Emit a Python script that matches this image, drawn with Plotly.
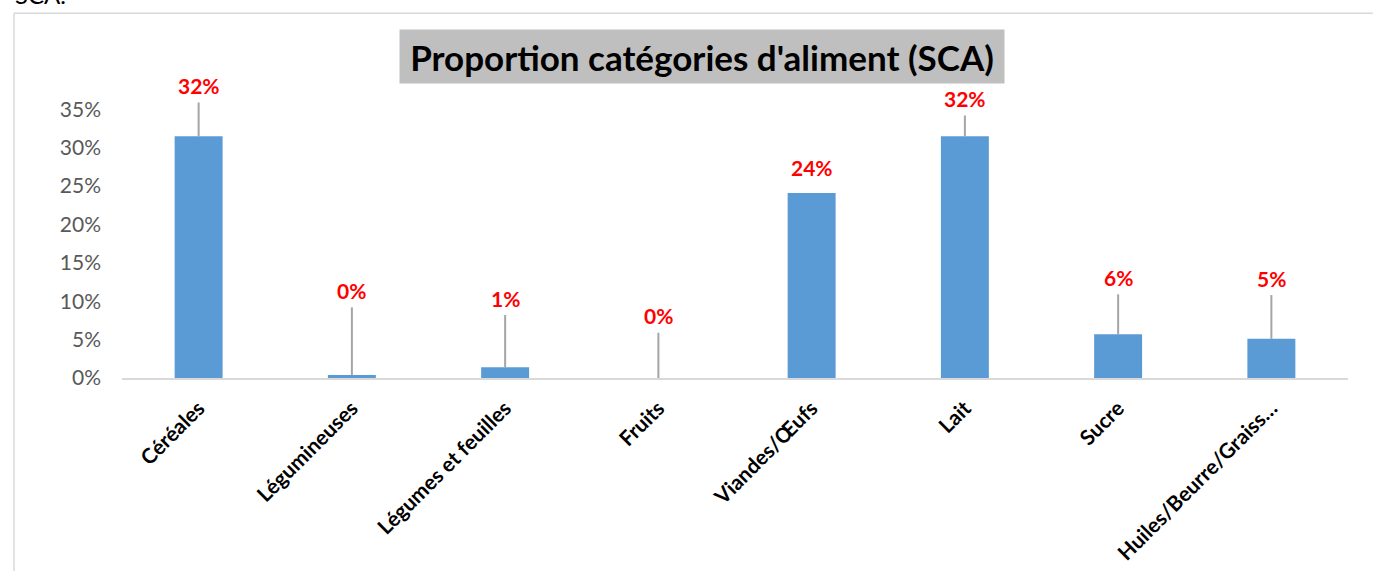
import plotly.graph_objects as go

categories = ["Céréales", "Légumineuses", "Légumes et feuilles", "Fruits",
              "Viandes/Œufs", "Lait", "Sucre", "Huiles/Beurre/Graiss…"]
values = [0.315, 0.004, 0.014, 0.0, 0.241, 0.315, 0.057, 0.051]
errors_up = [0.044, 0.088, 0.068, 0.059, 0.0, 0.027, 0.052, 0.057]
value_labels = ["32%", "0%", "1%", "0%", "24%", "32%", "6%", "5%"]
y_ticks = [0, 0.05, 0.10, 0.15, 0.20, 0.25, 0.30, 0.35]

W, H = 1373, 571
ML, MR, MT, MB = 122, 25, 93.5, 193
PW, PH = W - ML - MR, H - MT - MB


def px_x(p):
    return (p - ML) / PW


def px_y(p):
    return (H - MB - p) / PH


FONT = "Lato, 'Open Sans', sans-serif"

fig = go.Figure()
fig.add_trace(go.Bar(
    x=categories, y=values,
    marker=dict(color="#5B9BD5", line=dict(width=0)),
    error_y=dict(type="data", symmetric=False, array=errors_up,
                 arrayminus=[0] * len(values), color="#A5A5A5",
                 thickness=2, width=0),
    hoverinfo="skip",
))

annotations = []
for c, v, e, t in zip(categories, values, errors_up, value_labels):
    annotations.append(dict(
        x=c, y=v + e, xref="x", yref="y", text=t, showarrow=False,
        yanchor="middle", yshift=17 if e > 0 else 26,
        font=dict(family=FONT, size=21, color="#FF0000", weight="bold"),
    ))

# Title box
annotations.append(dict(
    x=px_x(702), y=px_y(55.5), xref="paper", yref="paper",
    text="<b>Proportion catégories d'aliment (SCA)</b>", showarrow=False,
    xanchor="center", yanchor="middle", width=604, height=53,
    bgcolor="#BFBFBF", borderpad=0,
    font=dict(family=FONT, size=35, color="#000000"),
))

# Cut-off text above frame
annotations.append(dict(
    x=px_x(13), y=px_y(10), xref="paper", yref="paper",
    text="SCA.", showarrow=False, xanchor="left", yanchor="bottom",
    font=dict(family=FONT, size=24, color="#000000"),
))

shapes = [
    dict(type="line", xref="paper", yref="paper",
         x0=px_x(14), x1=px_x(1380), y0=px_y(12.5), y1=px_y(12.5),
         line=dict(color="#D9D9D9", width=1.5)),
    dict(type="line", xref="paper", yref="paper",
         x0=px_x(14), x1=px_x(14), y0=px_y(12.5), y1=px_y(580),
         line=dict(color="#D9D9D9", width=1.5)),
]

fig.update_layout(
    width=W, height=H,
    margin=dict(l=ML, r=MR, t=MT, b=MB, autoexpand=False),
    paper_bgcolor="white", plot_bgcolor="white",
    bargap=0.687, showlegend=False,
    annotations=annotations, shapes=shapes,
    xaxis=dict(
        tickangle=-45, showgrid=False, showline=True, linecolor="#D9D9D9",
        linewidth=1.5, ticks="", zeroline=False, ticklabelstandoff=8,
        tickfont=dict(family=FONT, size=21, color="#000000", weight="bold"),
    ),
    yaxis=dict(
        range=[0, 0.37], tickvals=y_ticks, tickformat=".0%",
        showgrid=False, zeroline=False, showline=False, ticks="",
        ticklabelstandoff=20,
        tickfont=dict(family=FONT, size=21, color="#595959"),
    ),
)

fig.write_html(
    "out.html",
    config={"displayModeBar": False},
    post_script="document.body.style.margin='0';document.body.style.overflow='hidden';",
)
